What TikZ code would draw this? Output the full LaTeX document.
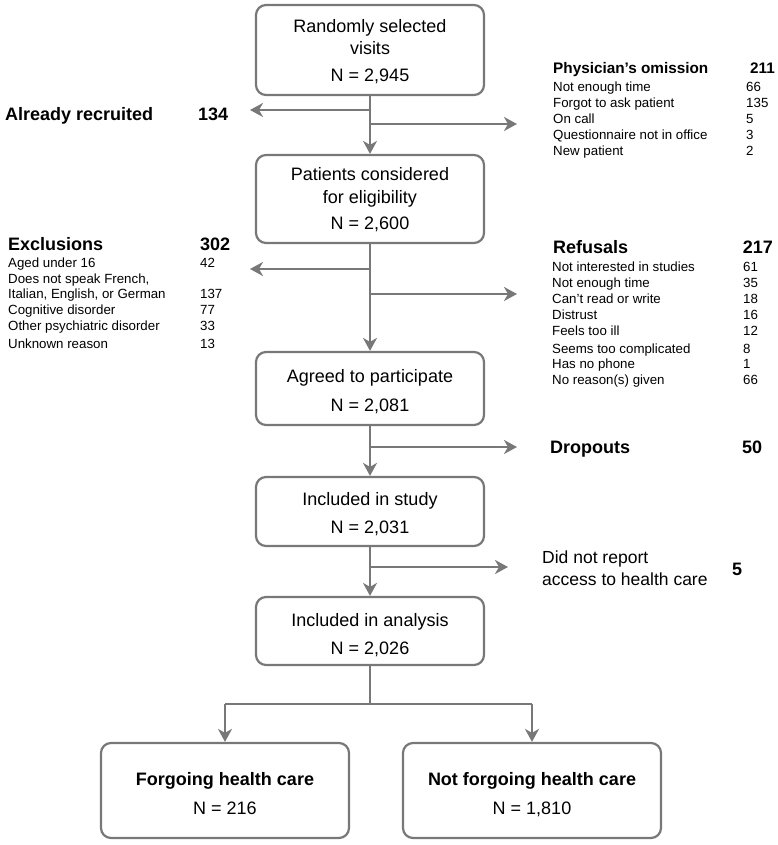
\documentclass[tikz,border=0pt]{standalone}
\usepackage{fontspec}
\setmainfont{Liberation Sans}
\usetikzlibrary{arrows.meta}
\definecolor{lg}{RGB}{120,120,120}
\begin{document}
\begin{tikzpicture}[x=1pt,y=-1pt,
  box/.style={draw=lg, line width=2.2pt, rounded corners=10pt, rectangle, inner sep=0pt},
  flow/.style={draw=lg, line width=2.6pt, -{Stealth[length=13pt,width=14pt,inset=4pt]}},
  trunk/.style={draw=lg, line width=2.6pt},
  bt/.style={font=\fontsize{18}{22}\selectfont, anchor=base, inner sep=0pt},
  btb/.style={font=\fontsize{18}{22}\selectfont\bfseries, anchor=base, inner sep=0pt},
  hd/.style={font=\fontsize{18}{22}\selectfont\bfseries, anchor=base west, inner sep=0pt},
  hdr/.style={font=\fontsize{18}{22}\selectfont\bfseries, anchor=base east, inner sep=0pt},
  li/.style={font=\fontsize{13.3}{16}\selectfont, anchor=base west, inner sep=0pt},
  side/.style={font=\fontsize{17.5}{22}\selectfont, anchor=base west, inner sep=0pt},
]
\useasboundingbox (0,0) rectangle (778,845);

% ---------- boxes ----------
\node[box, minimum width=228pt, minimum height=90pt] (b1) at (370,50) {};
\node[box, minimum width=228pt, minimum height=88pt] (b2) at (370,199) {};
\node[box, minimum width=228pt, minimum height=73pt] (b3) at (370,388.5) {};
\node[box, minimum width=228pt, minimum height=69pt] (b4) at (370,511.5) {};
\node[box, minimum width=228pt, minimum height=68pt] (b5) at (370,631) {};
\node[box, minimum width=248pt, minimum height=95pt] (b6) at (225,790.5) {};
\node[box, minimum width=258pt, minimum height=95pt] (b7) at (532,790.5) {};

% ---------- box texts ----------
\node[bt] (t1a) at (370,33) {Randomly selected};
\node[bt] (t1b) at (370,55) {visits};
\node[bt] (t1c) at (370,82) {N = 2,945};
\node[bt] (t2a) at (370,180) {Patients considered};
\node[bt] (t2b) at (370,204) {for eligibility};
\node[bt] (t2c) at (370,229) {N = 2,600};
\node[bt] (t3a) at (370,382) {Agreed to participate};
\node[bt] (t3b) at (370,411) {N = 2,081};
\node[bt] (t4a) at (370,505) {Included in study};
\node[bt] (t4b) at (370,533) {N = 2,031};
\node[bt] (t5a) at (370,626) {Included in analysis};
\node[bt] (t5b) at (370,654) {N = 2,026};
\node[btb] (t6a) at (225,785) {Forgoing health care};
\node[bt] (t6b) at (225,814) {N = 216};
\node[btb] (t7a) at (532,785) {Not forgoing health care};
\node[bt] (t7b) at (532,814) {N = 1,810};

% ---------- side texts ----------
\node[hd] (ar) at (5,121) {Already recruited};
\node[hd] (arn) at (198,121) {134};

\node[font=\fontsize{15.3}{18}\selectfont\bfseries, anchor=base west, inner sep=0pt] (po) at (553,74) {Physician’s omission};
\node[font=\fontsize{15.3}{18}\selectfont\bfseries, anchor=base east, inner sep=0pt] (pon) at (775,74) {211};
\node[li] (p1) at (553,92) {Not enough time};
\node[li] (p1n) at (746,92) {66};
\node[li] (p2) at (553,108) {Forgot to ask patient};
\node[li] (p2n) at (746,108) {135};
\node[li] (p3) at (553,124) {On call};
\node[li] (p3n) at (746,124) {5};
\node[li] (p4) at (553,140) {Questionnaire not in office};
\node[li] (p4n) at (746,140) {3};
\node[li] (p5) at (553,156) {New patient};
\node[li] (p5n) at (746,156) {2};

\node[hd] (ex) at (8,250) {Exclusions};
\node[hd] (exn) at (200,250) {302};
\node[li] (e1) at (8,267) {Aged under 16};
\node[li] (e1n) at (200,267) {42};
\node[li] (e2) at (8,283) {Does not speak French,};
\node[li] (e3) at (8,298) {Italian, English, or German};
\node[li] (e3n) at (200,298) {137};
\node[li] (e4) at (8,314) {Cognitive disorder};
\node[li] (e4n) at (200,314) {77};
\node[li] (e5) at (8,330) {Other psychiatric disorder};
\node[li] (e5n) at (200,330) {33};
\node[li] (e6) at (8,348) {Unknown reason};
\node[li] (e6n) at (200,348) {13};

\node[hd] (rf) at (553,253) {Refusals};
\node[hdr] (rfn) at (773,253) {217};
\node[li] (r1) at (552,271) {Not interested in studies};
\node[li] (r1n) at (743,271) {61};
\node[li] (r2) at (552,287) {Not enough time};
\node[li] (r2n) at (743,287) {35};
\node[li] (r3) at (552,303) {Can’t read or write};
\node[li] (r3n) at (743,303) {18};
\node[li] (r4) at (552,319) {Distrust};
\node[li] (r4n) at (743,319) {16};
\node[li] (r5) at (552,335) {Feels too ill};
\node[li] (r5n) at (743,335) {12};
\node[li] (r6) at (552,353) {Seems too complicated};
\node[li] (r6n) at (743,353) {8};
\node[li] (r7) at (552,368) {Has no phone};
\node[li] (r7n) at (743,368) {1};
\node[li] (r8) at (552,384) {No reason(s) given};
\node[li] (r8n) at (743,384) {66};

\node[hd] (dr) at (550,453) {Dropouts};
\node[hd] (drn) at (742,453) {50};

\node[side] (dn1) at (542,563) {Did not report};
\node[side] (dn2) at (542,585) {access to health care};
\node[hd] (dnn) at (732,575) {5};

% ---------- junctions ----------
\coordinate (j1l) at (370,110);  \coordinate (x1l) at (250,110);
\coordinate (j1r) at (370,124);  \coordinate (x1r) at (517,124);
\coordinate (j2l) at (370,269);  \coordinate (x2l) at (250,269);
\coordinate (j2r) at (370,294);  \coordinate (x2r) at (517,294);
\coordinate (j3r) at (370,447);  \coordinate (x3r) at (517,447);
\coordinate (j4r) at (370,567);  \coordinate (x4r) at (508,567);
\coordinate (sp) at (370,704);

% ---------- connectors ----------
\draw[flow] (b1.south) -- (b2.north);
\draw[flow] (b2.south) -- (b3.north);
\draw[flow] (b3.south) -- (b4.north);
\draw[flow] (b4.south) -- (b5.north);
\draw[flow] (j1l) -- (x1l);
\draw[flow] (j1r) -- (x1r);
\draw[flow] (j2l) -- (x2l);
\draw[flow] (j2r) -- (x2r);
\draw[flow] (j3r) -- (x3r);
\draw[flow] (j4r) -- (x4r);
\draw[trunk] (b5.south) -- (sp);
\draw[trunk] (b6.north |- sp) -- (b7.north |- sp);
\draw[flow] (b6.north |- sp) -- (b6.north);
\draw[flow] (b7.north |- sp) -- (b7.north);
\end{tikzpicture}
\end{document}
